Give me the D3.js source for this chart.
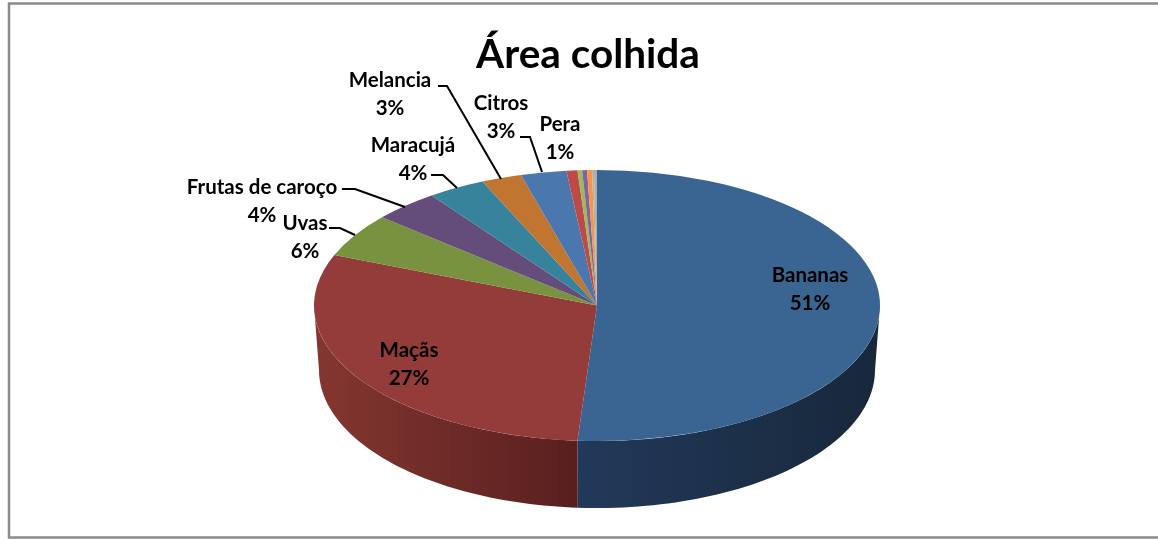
<!DOCTYPE html>
<html><head><meta charset="utf-8"><script src="https://cdnjs.cloudflare.com/ajax/libs/d3/7.8.5/d3.min.js"></script>
<style>html,body{margin:0;padding:0;background:#fff;overflow:hidden}svg{display:block;filter:blur(0.35px)}text{font-family:Lato,"Open Sans",sans-serif;font-weight:700;fill:#000}</style></head><body>
<script>
const categories=["Bananas","Maçãs","Uvas","Frutas de caroço","Maracujá","Melancia","Citros","Pera","Outras 1","Outras 2","Outras 3","Outras 4","Outras 5"];
const percentLabels=["51%","27%","6%","4%","4%","3%","3%","1%","","","","",""];
const sliceShares=[51.1,29.97,5.2,3.8,3.3,2.3,2.6,0.63,0.26,0.28,0.28,0.11,0.17];
const topColors=["#3a6491","#933c3a","#78923f","#644c7b","#37839b","#c07530","#4a77ae","#bc4a48","#9bbb59","#8064a2","#f79646","#c2ae8e","#9fb0bf"];
const labelX=[810,409,305,262,413,390,501,560];
const labelY=[276,351,224,188,146,81,104,125];
const leaders=[null,null,[[329,228],[340,228],[355,235]],[[342,189],[355,189],[405,207]],[[431,175],[443,175],[457,188]],[[438,86],[447,86],[501,179]],[[520,137],[530,137],[542,172]],null];

const W=1158,H=539;
const cx=597,cy=305.5,rx=283,ry=135.5,cy2=370,rx2=278,ry2=138;
const svg=d3.select("body").append("svg").attr("width",W).attr("height",H);
svg.append("rect").attr("x",9).attr("y",3.5).attr("width",1200).attr("height",534).attr("fill","#fff").attr("stroke","#8a8a8a").attr("stroke-width",2.5);

const pie=d3.pie().sort(null).value(d=>d);
const arcs=pie(sliceShares);
const defs=svg.append("defs");
function grad(id,a,b){const g=defs.append("linearGradient").attr("id",id);g.append("stop").attr("offset",0).attr("stop-color",a);g.append("stop").attr("offset",1).attr("stop-color",b);}
grad("wallBlue","#21395a","#18283b");
grad("wallRed","#84372f","#581f1f");

function wall(a0,a1,fill){
  const n=d3.range(0,61).map(i=>a0+(a1-a0)*i/60);
  const top=n.map(t=>[cx+rx*Math.sin(t),cy-ry*Math.cos(t)]);
  const bot=n.map(t=>[cx+rx2*Math.sin(t),cy2-ry2*Math.cos(t)]).reverse();
  svg.append("path").attr("d",d3.line()(top.concat(bot))+"Z").attr("fill",fill);
}
wall(Math.PI/2,arcs[0].endAngle,"url(#wallBlue)");
wall(arcs[0].endAngle,Math.PI*1.5,"url(#wallRed)");

const arcGen=d3.arc().innerRadius(0).outerRadius(rx);
svg.append("g").attr("transform",`translate(${cx},${cy}) scale(1,${ry/rx})`)
  .selectAll("path").data(arcs).join("path").attr("d",arcGen).attr("fill",(d,i)=>topColors[i]);

svg.selectAll("path.lead").data(leaders.filter(Boolean)).join("path").attr("class","lead")
  .attr("d",d=>d3.line()(d)).attr("fill","none").attr("stroke","#000").attr("stroke-width",2);

svg.append("text").attr("x",588).attr("y",68).attr("text-anchor","middle").attr("font-size",40.5).text("Área colhida");
categories.slice(0,8).forEach((c,i)=>{
  const t=svg.append("text").attr("text-anchor","middle").attr("font-size",20.5);
  t.append("tspan").attr("x",labelX[i]).attr("y",labelY[i]+6).text(c);
  t.append("tspan").attr("x",labelX[i]).attr("y",labelY[i]+34).text(percentLabels[i]);
});
</script></body></html>
